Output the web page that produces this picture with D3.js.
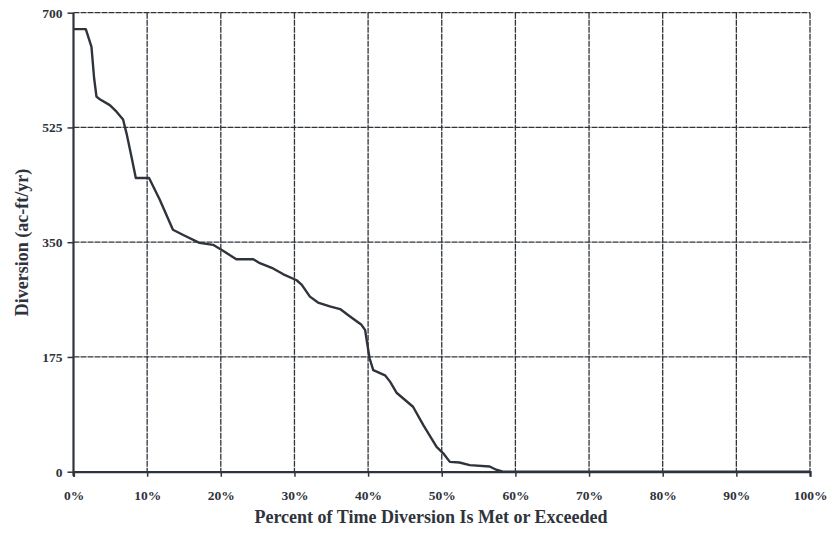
<!DOCTYPE html>
<html>
<head>
<meta charset="utf-8">
<script src="https://cdn.jsdelivr.net/npm/d3@7"></script>
<style>
  html, body { margin: 0; padding: 0; background: #ffffff; }
  svg { display: block; }
  .tick text { font-family: "Liberation Serif", "DejaVu Serif", serif; font-weight: bold; font-size: 13.5px; fill: #2e333b; }
</style>
</head>
<body>
<svg id="chart" width="832" height="541"></svg>
<script>
// Percent of time (x) and diversion in ac-ft/yr (y)
const percentTime = [0, 1.67, 2.44, 2.8, 3.12, 3.57, 4.93, 5.84, 6.73, 7.2, 7.88, 8.46, 10.26, 11.7, 13.5, 14.9, 17.1, 18.95, 20.3, 22.1, 24.4, 25.3, 27.1, 28.5, 30.3, 31.0, 32.1, 33.2, 34.8, 36.2, 37.5, 39.1, 39.6, 39.8, 40.2, 40.7, 42.3, 43.0, 43.9, 46.1, 47.5, 49.3, 50.2, 51.1, 52.4, 53.8, 56.5, 57.4, 58.3, 100];
const diversion = [675, 675, 648, 600, 572, 568, 559, 549, 537, 516, 480, 448, 448, 415, 369, 361, 349, 346, 337, 324, 324, 318, 310, 301, 292, 285, 267, 258, 252, 248, 237, 224, 216, 201, 173, 155, 147, 137, 120, 99, 71, 38, 28, 15, 14, 10, 8, 3, 0, 0];
const xTicks = [0, 10, 20, 30, 40, 50, 60, 70, 80, 90, 100];
const yTicks = [0, 175, 350, 525, 700];
const xTitle = "Percent of Time Diversion Is Met or Exceeded";
const yTitle = "Diversion (ac-ft/yr)";

const svg = d3.select("#chart");
const ink = "#2f343c";
const margin = { left: 73.5, right: 22, top: 12.7, bottom: 69.3 };
const W = 832, H = 541;

const x = d3.scaleLinear().domain([0, 100]).range([margin.left, W - margin.right]);
const y = d3.scaleLinear().domain([0, 700]).range([H - margin.bottom, margin.top]);

// Gridlines
const grid = svg.append("g");
grid.selectAll("line.v").data(xTicks.slice(1)).enter().append("line")
  .attr("x1", d => x(d)).attr("x2", d => x(d))
  .attr("y1", y(700)).attr("y2", y(0))
  .attr("stroke", ink).attr("stroke-width", 1.3).attr("stroke-dasharray", "6,1");
grid.selectAll("line.h").data(yTicks.slice(1)).enter().append("line")
  .attr("x1", x(0)).attr("x2", x(100))
  .attr("y1", d => y(d)).attr("y2", d => y(d))
  .attr("stroke", ink).attr("stroke-width", 1.3).attr("stroke-dasharray", "6,1");

// Axes
const xAxis = d3.axisBottom(x).tickValues(xTicks).tickFormat(d => d + "%").tickSize(5).tickPadding(14);
const yAxis = d3.axisLeft(y).tickValues(yTicks).tickFormat(d3.format("d")).tickSize(6).tickPadding(5);

const gx = svg.append("g").attr("transform", `translate(0,${y(0)})`).call(xAxis);
gx.select(".domain").attr("stroke", ink).attr("stroke-width", 2.2);
gx.selectAll(".tick line").attr("stroke", ink).attr("stroke-width", 1.5);

const gy = svg.append("g").attr("transform", `translate(${x(0)},0)`).call(yAxis);
gy.select(".domain").attr("stroke", ink).attr("stroke-width", 2.2).attr("d", `M0,${y(0) + 4}V${y(700)}`);
gy.selectAll(".tick line").attr("stroke", ink).attr("stroke-width", 1.5);

// Data line
const line = d3.line().x((d, i) => x(percentTime[i])).y(d => y(d));
svg.append("path")
  .datum(diversion)
  .attr("d", line)
  .attr("fill", "none")
  .attr("stroke", ink)
  .attr("stroke-width", 2.4)
  .attr("stroke-linejoin", "round");

// Titles
svg.append("text")
  .attr("x", 431).attr("y", 523)
  .attr("text-anchor", "middle")
  .attr("font-family", "Liberation Serif, DejaVu Serif, serif")
  .attr("font-weight", "bold").attr("font-size", 18)
  .attr("fill", ink)
  .text(xTitle);

svg.append("text")
  .attr("transform", `translate(28,242.5) rotate(-90)`)
  .attr("text-anchor", "middle")
  .attr("font-family", "Liberation Serif, DejaVu Serif, serif")
  .attr("font-weight", "bold").attr("font-size", 18)
  .attr("fill", ink)
  .text(yTitle);
</script>
</body>
</html>
